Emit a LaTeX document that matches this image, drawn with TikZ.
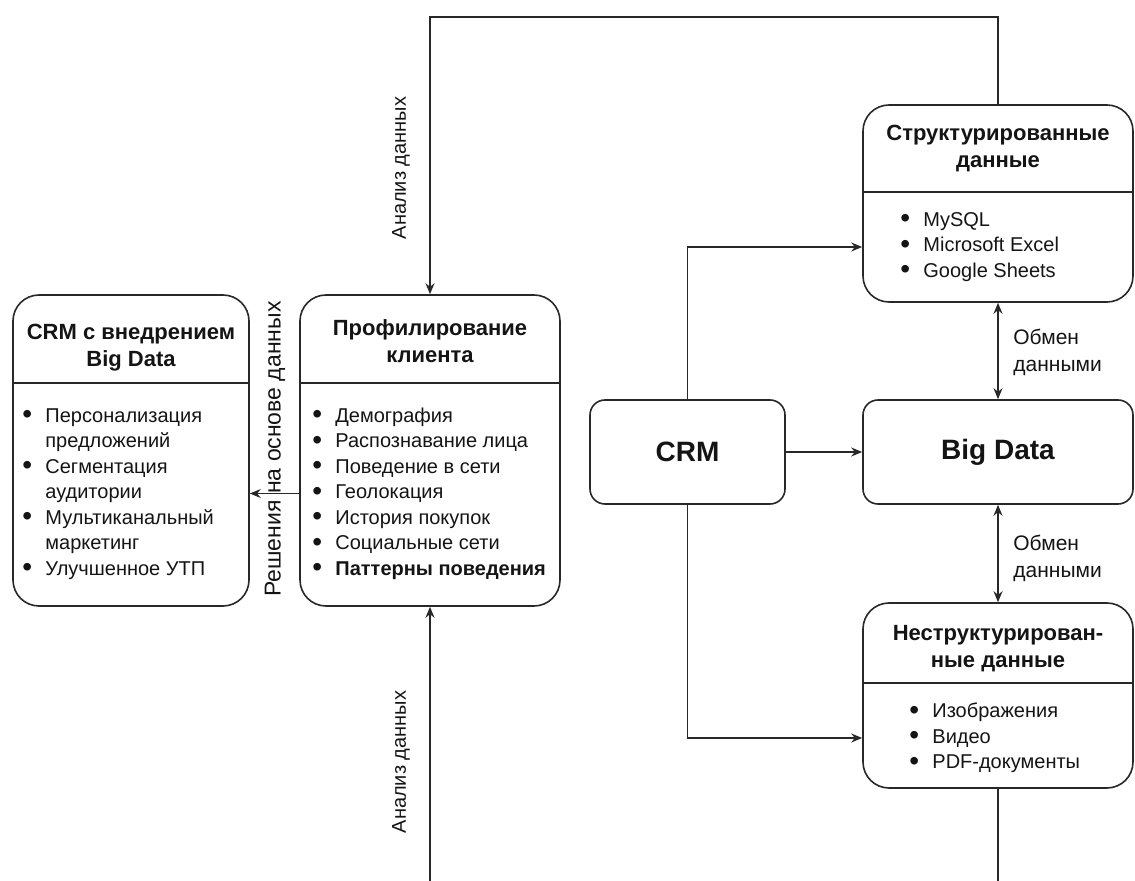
\documentclass[tikz,border=0pt]{standalone}
\usepackage{fontspec}
\setmainfont{Liberation Sans}
\usetikzlibrary{arrows.meta,positioning,calc}
\definecolor{bdLine}{RGB}{40,40,40}
\definecolor{bdText}{RGB}{20,20,20}
\newcommand{\blt}{\makebox[11.5pt][l]{\raisebox{-0.7pt}{\fontsize{14}{12}\selectfont•}}}
\newcommand{\bltgap}{\hspace*{11.5pt}}

\begin{document}
\begin{tikzpicture}[x=0.5pt,y=-0.5pt,
  every node/.style={text=bdText,font=\fontsize{10}{12.75}\selectfont},
  >={Stealth[length=5.5pt,width=4.5pt]},
  card/.style={draw=bdLine,line width=0.8pt,rounded corners=13pt},
  tile/.style={draw=bdLine,line width=0.8pt,rounded corners=7.5pt,
               font=\fontsize{14}{16}\selectfont\bfseries},
  ttl/.style={align=center,inner sep=0pt,font=\fontsize{11}{13.5}\selectfont\bfseries},
  lst/.style={align=left,inner sep=0pt,anchor=west},
  lbl/.style={inner sep=0pt},
  flow/.style={draw=bdLine,line width=0.7pt}
]
\useasboundingbox (0,0) rectangle (1135,881);

% left column
\node[card,minimum width=118pt,minimum height=155.5pt] (crmbd) at (131,450.5) {};
\node[ttl] (crmbdT) at (131,348) {CRM с внедрением\\Big Data};
\draw[flow] (crmbd.west |- 0,383) -- (crmbd.east |- 0,383);
\node[lst] (crmbdL) at (22,494) {\blt Персонализация\\\bltgap предложений\\\blt Сегментация\\\bltgap аудитории\\\blt Мультиканальный\\\bltgap маркетинг\\\blt Улучшенное УТП};

\node[card,minimum width=130pt,minimum height=155.5pt] (prof) at (430,450.5) {};
\node[ttl] (profT) at (430,341) {Профилирование\\клиента};
\draw[flow] (prof.west |- 0,383) -- (prof.east |- 0,383);
\node[lst] (profL) at (312,493.5) {\blt Демография\\\blt Распознавание лица\\\blt Поведение в сети\\\blt Геолокация\\\blt История покупок\\\blt Социальные сети\\\blt\textbf{Паттерны поведения}};

% centre and right column
\node[tile,minimum width=97.5pt,minimum height=52pt] (crm) at (687.5,452) {CRM};
\node[tile,minimum width=135pt,minimum height=52pt] (bigd) at (998,452) {Big Data};

\node[card,minimum width=135pt,minimum height=98.5pt] (strd) at (998,203.5) {};
\node[ttl] (strdT) at (998,149) {Структурированные\\данные};
\draw[flow] (strd.west |- 0,192) -- (strd.east |- 0,192);
\node[lst] (strdL) at (900,247) {\blt MySQL\\\blt Microsoft Excel\\\blt Google Sheets};

\node[card,minimum width=135pt,minimum height=92.5pt] (unstr) at (998,695.5) {};
\node[ttl] (unstrT) at (998,649) {Неструктурирован-\\ные данные};
\draw[flow] (unstr.west |- 0,683) -- (unstr.east |- 0,683);
\node[lst] (unstrL) at (909,738) {\blt Изображения\\\blt Видео\\\blt PDF-документы};

% labels
\node[lbl,rotate=90] (anaTop) at (401,168) {Анализ данных};
\node[lbl,rotate=90] (anaBot) at (401,762) {Анализ данных};
\node[lbl,rotate=90,font=\fontsize{11.5}{13}\selectfont] (decide) at (275,449) {Решения на основе данных};
\node[lbl,align=left,anchor=west,font=\fontsize{10.5}{13.5}\selectfont] (xchTop) at (1013,352) {Обмен\\данными};
\node[lbl,align=left,anchor=west,font=\fontsize{10.5}{13.5}\selectfont] (xchBot) at (1013,558) {Обмен\\данными};

\coordinate (topRail) at (0,17);
\coordinate (botEdge) at (0,881);

\draw[flow,->] (strd.north) -- (strd.north |- topRail) -| (prof.north);
\draw[flow,->] (prof.south |- botEdge) -- (prof.south);
\draw[flow] (unstr.south) -- (unstr.south |- botEdge);
\draw[flow,->] (prof.west |- profL.center) -- (crmbd.east |- profL.center);
\draw[flow,->] (crm) -- (bigd);
\draw[flow,->] (crm.north) |- (strd.west |- strdL.center);
\draw[flow,->] (crm.south) |- (unstr.west |- unstrL.center);
\draw[flow,<->] (strd.south) -- (bigd.north);
\draw[flow,<->] (bigd.south) -- (unstr.north);
\end{tikzpicture}
\end{document}
